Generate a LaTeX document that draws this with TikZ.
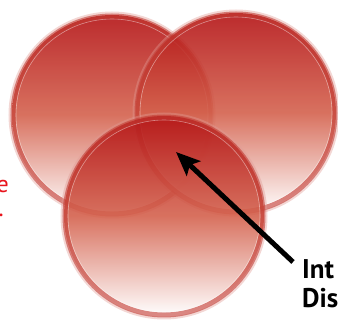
\documentclass[tikz,border=0pt]{standalone}
\usepackage{fontspec}
\setmainfont{PT Sans}
\usetikzlibrary{arrows.meta}
\definecolor{discred}{HTML}{B41416}
\definecolor{discmid}{HTML}{D4624E}
\definecolor{rimred}{HTML}{C23A32}
\definecolor{glowred}{HTML}{E09A94}
\definecolor{notered}{HTML}{E8141C}

\begin{document}
\begin{tikzpicture}[x=1pt,y=-1pt]
    \tikzset{
    disc/.style={
        circle, minimum size=200pt, inner sep=0pt,
        top color=discred, bottom color=white, middle color=discmid, fill opacity=0.9
    },
    rim/.style={draw=rimred, line width=5pt, opacity=0.6},
    glow/.style={draw=glowred, line width=3pt, opacity=0.4},
    shine/.style={draw=white, line width=0.6pt, opacity=0.45},
    callout/.style={font=\bfseries\fontsize{27}{31}\selectfont, anchor=base west, inner sep=0pt},
    note/.style={font=\fontsize{24}{28}\selectfont, text=notered, anchor=base east, inner sep=0pt}
    }
    \useasboundingbox (0,0) rectangle (338,320);
    \clip (0,0) rectangle (338,320);

        % three discs
        \node (left)[disc] at (112,115) {};
        \draw[glow] (left.center) circle (102pt);
        \draw[rim] (left.center) circle (99pt);
        \draw[shine] (left.center) circle (96pt);

        \node (right)[disc] at (236,113) {};
        \draw[glow] (right.center) circle (102pt);
        \draw[rim] (right.center) circle (99pt);
        \draw[shine] (right.center) circle (96pt);

        \node (bottom)[disc] at (164,216) {};
        \draw[glow] (bottom.center) circle (102pt);
        \draw[rim] (bottom.center) circle (99pt);
        \draw[shine] (bottom.center) circle (96pt);

        % texts cut by the frame
        \node (note1)[note] at (9,193) {e};
        \node (note2)[note] at (4,217) {.};
        \node (int)[callout] at (302,279) {Int};
        \node (dis)[callout] at (302,308) {Dis};

        \coordinate (tail) at (293,262);
        \coordinate (tip) at (176,152);
        \draw[-{Stealth[length=24pt,width=20pt,inset=5pt]}, line width=5pt] (tail) -- (tip);

    \end{tikzpicture}
\end{document}
